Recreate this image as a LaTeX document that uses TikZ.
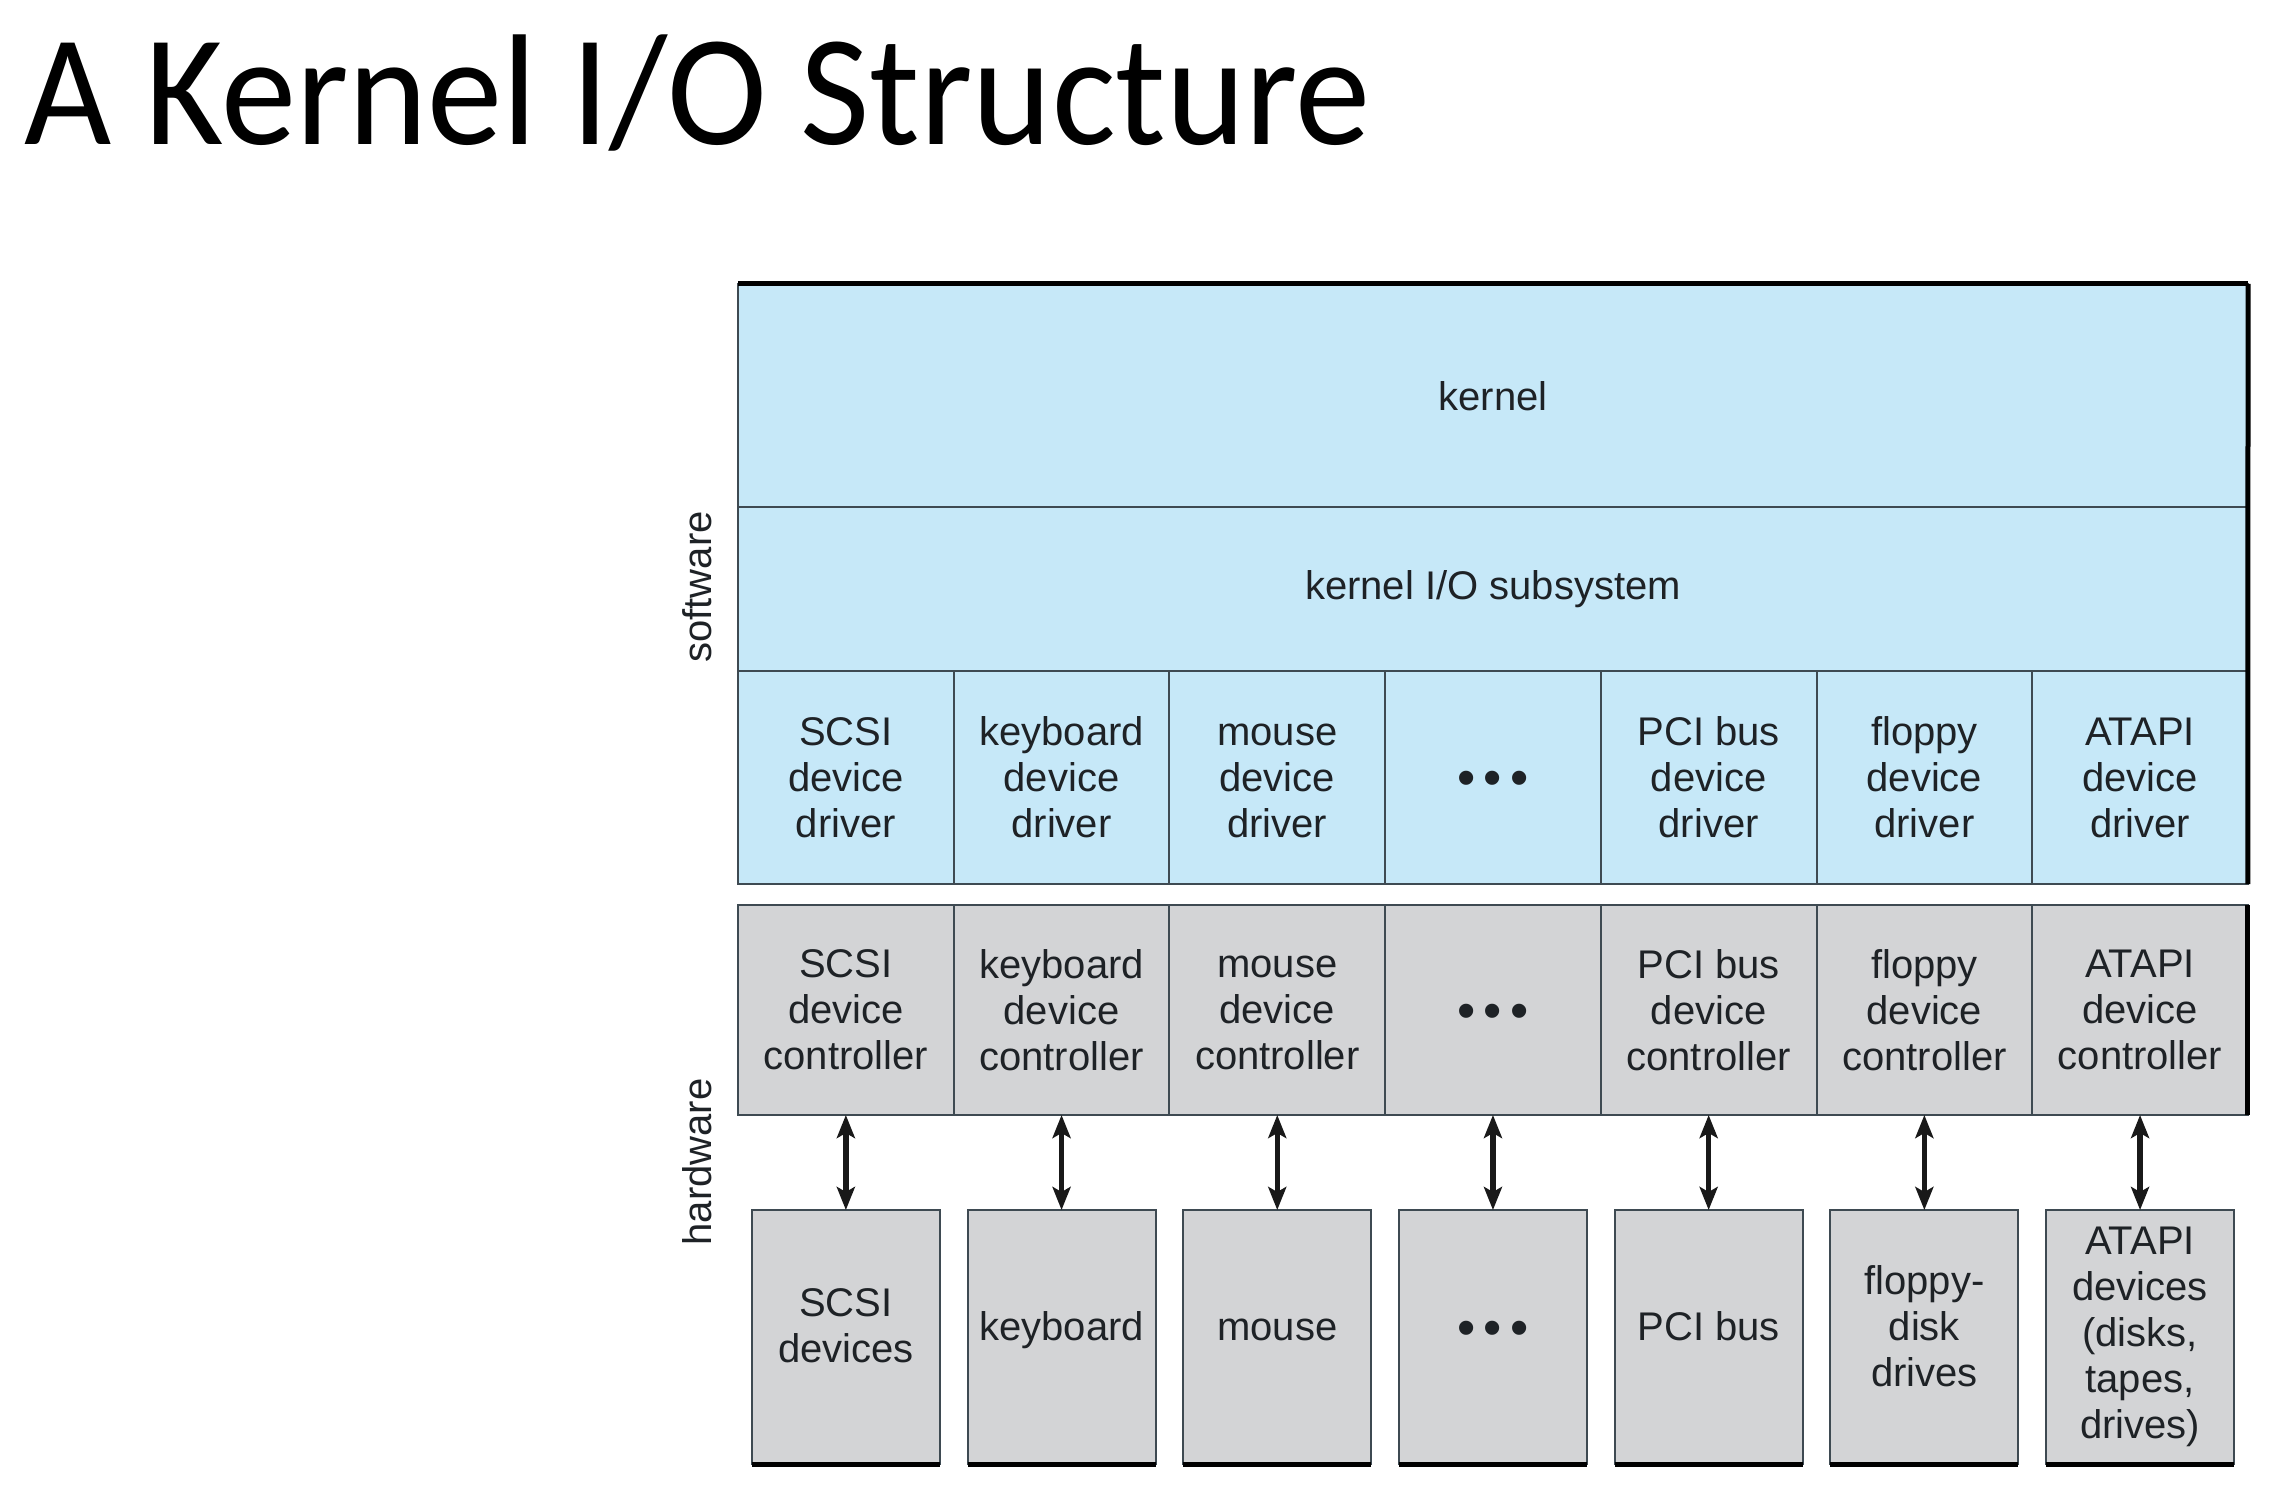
\documentclass[tikz,border=0pt]{standalone}
\usepackage{fontspec}
\setmainfont{Liberation Sans}
\newfontfamily\titlefont[FakeStretch=0.953]{Carlito}
\usetikzlibrary{arrows.meta}

\definecolor{swblue}{HTML}{C6E8F8}
\definecolor{hwgray}{HTML}{D3D4D6}
\definecolor{rulegray}{HTML}{3E4A52}
\definecolor{ink}{HTML}{1E2226}

% three large dots standing for the omitted devices; the optional
% argument sets their height about the middle of the cell
\newcommand\moredots[1][-18pt]{\smash{\raisebox{#1}{\fontsize{52}{52}\selectfont\textbullet\hspace{8pt}\textbullet\hspace{8pt}\textbullet}}}
% extra depth that lifts the text inside the device boxes
\newcommand\liftstrut{\rule[-22pt]{0pt}{22pt}}

\begin{document}
\begin{tikzpicture}[x=1pt,y=-1pt,
  cellbase/.style={draw=rulegray, line width=2pt, inner sep=0pt, outer sep=0pt,
    align=center, text=ink, font=\fontsize{40}{46}\selectfont},
  swcell/.style={cellbase, fill=swblue},
  hwcell/.style={cellbase, fill=hwgray},
  colcell/.style={minimum width=215.7pt},
  devbox/.style={hwcell, minimum width=188pt, minimum height=254pt},
  sidelabel/.style={rotate=90, text=ink, font=\fontsize{40}{46}\selectfont, inner sep=0pt},
  heavy/.style={draw=black, line width=5pt},
  biarrow/.style={draw=black!90, line width=5.5pt,
    {Stealth[length=23pt,width=18pt,inset=5pt]}-{Stealth[length=23pt,width=18pt,inset=5pt]}}
]
\useasboundingbox[fill=white] (0,0) rectangle (2273,1506);

% title
\node[anchor=base west, inner sep=0pt, font=\titlefont\fontsize{158}{170}\selectfont] (title) at (24,145) {A Kernel I/O Structure};

% software layers
\node[swcell, minimum width=1510pt, minimum height=224pt] (kernel) at (1493,396) {kernel};
\node[swcell, minimum width=1510pt, minimum height=164pt] (iosub) at (1493,589) {kernel I/O subsystem};

\foreach \i/\txt in {1/{SCSI\\device\\driver}, 2/{keyboard\\device\\driver},
    3/{\vphantom{S}mouse\\device\\driver}, 4/{\moredots}, 5/{PCI bus\\device\\driver},
    6/{floppy\\device\\driver}, 7/{ATAPI\\device\\driver}}
  \node[swcell, colcell, minimum height=213pt] (drv\i) at ({738+215.7*(\i-0.5)},777.5) {\txt};

% hardware layers
\foreach \i/\txt in {1/{SCSI\\device\\controller}, 2/{keyboard\\device\\controller},
    3/{\vphantom{S}mouse\\device\\controller}, 4/{\moredots}, 5/{PCI bus\\device\\controller},
    6/{floppy\\device\\controller}, 7/{ATAPI\\device\\controller}}
  \node[hwcell, colcell, minimum height=210pt] (ctl\i) at ({738+215.7*(\i-0.5)},1010) {\txt};

\foreach \i/\txt in {1/{SCSI\\devices\liftstrut}, 2/{keyboard\liftstrut}, 3/{\vphantom{k}mouse\liftstrut},
    4/{\moredots[-8pt]}, 5/{PCI bus\liftstrut}, 6/{floppy-\\disk\\drives\liftstrut},
    7/{ATAPI\\devices\\(disks,\\tapes,\\drives)}}
  \node[devbox] (dev\i) at ({738+215.7*(\i-0.5)},1337) {\txt};

% heavy edges
\draw[heavy] (kernel.north west) -- (kernel.north east);
\draw[heavy] (kernel.north east) -- (drv7.south east);
\draw[heavy] (ctl7.north east) -- (ctl7.south east);
\foreach \i in {1,...,7}
  \draw[heavy] (dev\i.south west) -- (dev\i.south east);

% controller to device links
\foreach \i in {1,...,7}
  \draw[biarrow] (ctl\i.south) -- (dev\i.north);

% side labels
\node[sidelabel] (swlabel) at (697,587) {software};
\node[sidelabel] (hwlabel) at (697,1162) {hardware};
\end{tikzpicture}
\end{document}
